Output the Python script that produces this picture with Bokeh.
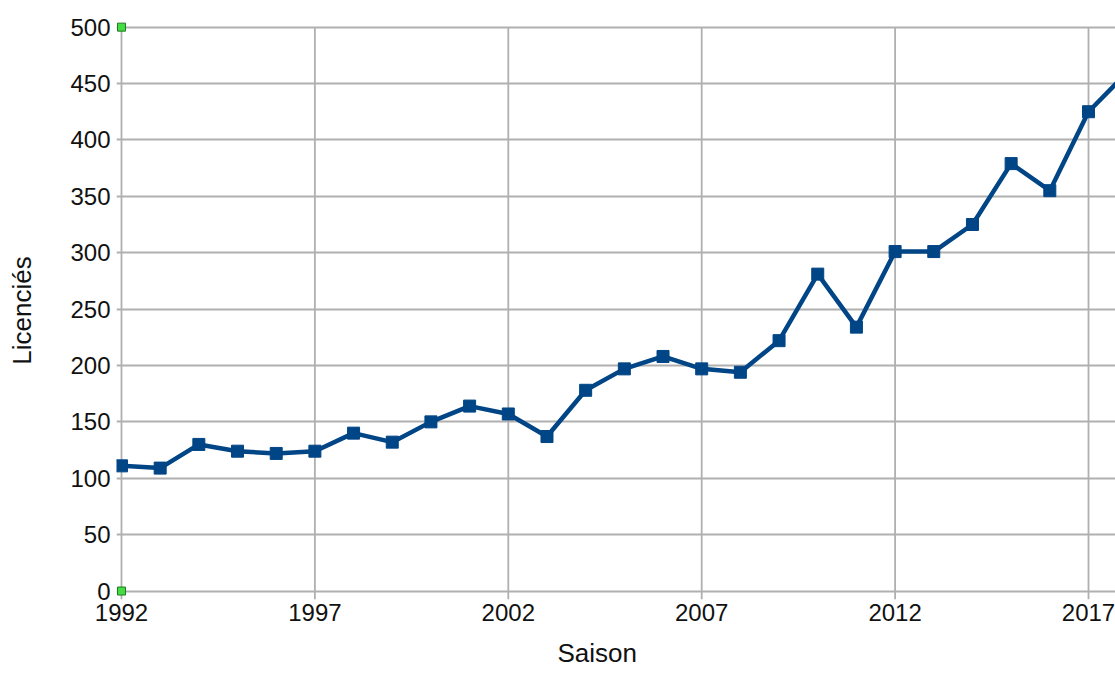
from bokeh.plotting import figure
from bokeh.models import Range1d, FixedTicker, Title
from bokeh.embed import file_html
from bokeh.resources import INLINE

years = list(range(1992, 2019))
licencies = [111, 109, 130, 124, 122, 124, 140, 132, 150, 164, 157, 137, 178, 197,
             208, 197, 194, 222, 281, 234, 301, 301, 325, 379, 355, 425, 460]
x_ticks = [1992, 1997, 2002, 2007, 2012, 2017]
y_ticks = [0, 50, 100, 150, 200, 250, 300, 350, 400, 450, 500]
handle_x = [1992, 1992]
handle_y = [0, 500]

FONT = "Liberation Sans"

p = figure(width=1115, height=679, output_backend="svg", toolbar_location=None,
           x_range=Range1d(1991.871, 2017.698), y_range=Range1d(-7.5, 505),
           min_border_left=116, min_border_right=0, min_border_top=21, min_border_bottom=79)
p.outline_line_color = None
p.background_fill_color = "white"
p.border_fill_color = "white"

# grids
p.xgrid.visible = False
p.ygrid.ticker = FixedTicker(ticks=y_ticks)
p.ygrid.grid_line_color = "#b0b0b0"
p.ygrid.grid_line_width = 1.8
p.segment(x0=x_ticks, y0=[p.y_range.start] * len(x_ticks), x1=x_ticks, y1=[500] * len(x_ticks),
          line_color="#b0b0b0", line_width=1.8)

# axes
for ax in (p.xaxis, p.yaxis):
    ax.axis_line_color = None
    ax.major_tick_line_color = None
    ax.minor_tick_line_color = None
    ax.major_tick_out = 0
    ax.major_tick_in = 0
    ax.major_label_text_font = FONT
    ax.major_label_text_font_size = "24px"
    ax.major_label_text_color = "#111111"
    ax.axis_label_text_font = FONT
    ax.axis_label_text_font_size = "26px"
    ax.axis_label_text_font_style = "normal"
    ax.axis_label_text_color = "#111111"

p.xaxis.ticker = FixedTicker(ticks=x_ticks)
p.yaxis.ticker = FixedTicker(ticks=y_ticks)
p.xaxis.major_label_standoff = 4
p.yaxis.major_label_standoff = 6
p.yaxis.axis_label = "Licenciés"
p.yaxis.axis_label_standoff = 30

# data line
p.line(years, licencies, line_color="#004586", line_width=4.5)
p.scatter(years, licencies, marker="square", size=12, fill_color="#004586", line_color="#004586")

# selection handles
p.scatter(handle_x, handle_y, marker="square", size=8, fill_color="#44dd44", line_color="#1f7a1f", line_width=1)

# x axis title
p.add_layout(Title(text="Saison", align="left", offset=441, standoff=24,
                   text_font=FONT, text_font_size="26px", text_font_style="normal",
                   text_color="#111111"), "below")

open("out.html", "w").write(file_html(p, INLINE))
